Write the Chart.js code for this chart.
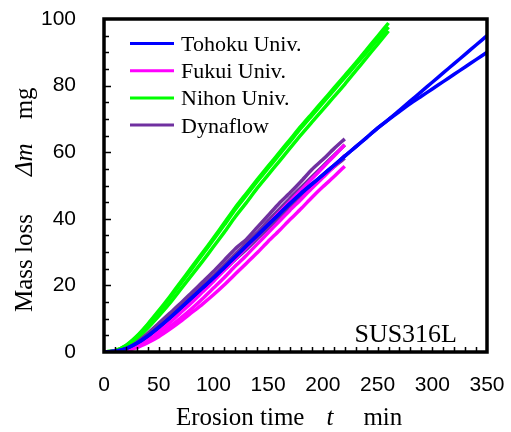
<!DOCTYPE html>
<html>
<head>
<meta charset="utf-8">
<script src="https://cdn.jsdelivr.net/npm/chart.js@4.4.0/dist/chart.umd.min.js"></script>
<style>
  body { margin: 0; background: #fff; }
  #wrap { width: 511px; height: 432px; }
</style>
</head>
<body>
<div id="wrap"><canvas id="erosion" width="511" height="432"></canvas></div>
<script>
// time grids (min)
const t220 = [0,10,20,30,40,50,60,70,80,90,100,110,120,130,140,150,160,170,180,190,200,210,220];
const t260 = [0,10,20,30,40,50,60,70,80,90,100,110,120,130,140,150,160,170,180,190,200,210,220,230,240,250,260];
const t350 = [0,10,20,30,40,50,60,70,80,90,100,110,120,130,140,150,160,170,180,190,200,210,220,230,240,250,260,270,280,290,300,310,320,330,340,350];

// mass loss (mg)
const tohoku1 = [0,0.2,1.0,2.6,4.8,7.4,10.2,13.2,16.2,19.2,22.2,25.4,28.6,31.8,35.0,38.2,41.4,44.6,47.6,50.4,53.2,56.0,58.8,61.6,64.4,67.2,69.8,72.6,75.4,78.2,81.0,83.8,86.6,89.4,92.2,95.0];
const tohoku2 = [0,0.2,1.0,2.6,4.8,7.4,10.2,13.2,16.2,19.2,22.2,25.4,28.6,31.8,35.0,38.2,41.4,44.6,47.6,50.4,53.2,56.0,58.8,61.6,64.4,67.2,69.8,72.2,74.6,76.8,79.0,81.2,83.4,85.6,87.8,90.0];
const fukui1 = [0,0.1,0.6,1.8,3.8,6.2,8.8,11.8,14.8,18.0,21.2,24.6,28.0,31.4,34.8,38.2,41.8,45.2,48.6,52.0,55.4,58.8,62.2];
const fukui2 = [0,0.1,0.5,1.5,3.2,5.2,7.6,10.2,13.0,16.0,19.2,22.4,25.8,29.0,32.4,35.8,39.2,42.6,45.8,49.2,52.4,55.6,59.0];
const fukui3 = [0,0.1,0.4,1.3,2.8,4.6,6.8,9.2,11.8,14.4,17.2,20.2,23.4,26.6,29.8,33.2,36.4,39.8,43.0,46.4,49.6,52.6,55.8];
const nihon1 = [0,0.4,2.0,4.8,8.4,12.4,16.6,21.0,25.4,29.8,34.2,38.8,43.4,47.6,51.8,55.8,59.8,63.8,67.8,71.6,75.4,79.2,83.0,86.8,90.8,94.8,98.8];
const nihon2 = [0,0.4,1.9,4.6,8.1,12.0,16.1,20.5,24.9,29.3,33.7,38.2,42.8,47.0,51.2,55.2,59.2,63.2,67.2,71.0,74.8,78.6,82.4,86.2,90.0,93.8,97.6];
const nihon3 = [0,0.3,1.5,3.9,7.2,10.8,14.6,18.8,23.0,27.2,31.6,36.0,40.6,44.8,49.2,53.2,57.2,61.2,65.2,69.0,72.8,76.6,80.4,84.4,88.4,92.4,96.4];
const dyna1 = [0,0.2,1.0,2.9,5.6,8.6,11.6,14.6,17.8,21.0,24.2,27.6,31.0,33.8,37.4,41.0,44.6,47.8,51.2,54.8,57.8,61.0,64.0];
const dyna2 = [0,0.2,0.9,2.5,5.0,7.8,10.8,13.8,16.8,19.8,22.8,26.2,29.4,32.6,35.8,39.4,42.8,46.2,49.4,52.6,55.8,59.0,62.2];
const dyna3 = [0,0.1,0.8,2.3,4.6,7.2,10.0,12.8,15.8,18.6,21.6,24.6,27.8,30.8,34.0,37.2,40.4,43.8,46.8,50.0,52.8,55.6,58.2];

const legendNames = ['Tohoku Univ.', 'Fukui Univ.', 'Nihon Univ.', 'Dynaflow'];
const legendColors = ['#0000ff', '#ff00ff', '#00ff00', '#7030a0'];
const xTickValues = [0,50,100,150,200,250,300,350];
const yTickValues = [0,20,40,60,80,100];

const SERIF = '"Liberation Serif", "Times New Roman", serif';
const SANS = '"Liberation Sans", Arial, sans-serif';

function pts(times, values) {
  return values.map((v, i) => ({x: times[i], y: v}));
}

function series(times, values, color) {
  return {
    data: pts(times, values),
    borderColor: color,
    borderWidth: 3.5,
    pointRadius: 0,
    tension: 0.2,
    fill: false
  };
}

// no extra label padding, the plot box is fixed by layout padding
function noPad(scale) {
  scale.paddingTop = 0;
  scale.paddingBottom = 0;
  scale.paddingLeft = 0;
  scale.paddingRight = 0;
}

//frame + inward ticks
const framePlugin = {
  id: 'frame',
  afterDatasetsDraw(chart) {
    const ctx = chart.ctx;
    const a = chart.chartArea;
    const x = chart.scales.x, y = chart.scales.y;
    ctx.save();
    ctx.strokeStyle = '#000';
    ctx.lineWidth = 1.5;
    ctx.beginPath();
    for (let t = 10; t < 350; t += 10) {
      const px = Math.round(x.getPixelForValue(t)) + 0.5;
      ctx.moveTo(px, a.bottom);
      ctx.lineTo(px, a.bottom - 5);
    }
    for (let m = 5; m < 100; m += 5) {
      const py = Math.round(y.getPixelForValue(m)) + 0.5;
      ctx.moveTo(a.left, py);
      ctx.lineTo(a.left + (m % 20 == 0 ? 7 : 5), py);
    }
    ctx.stroke();
    ctx.lineWidth = 3.5;
    ctx.strokeRect(a.left, a.top, a.right - a.left, a.bottom - a.top);
    ctx.restore();
  }
};

//legend, sample name and axis titles (mixed italic)
const textPlugin = {
  id: 'texts',
  afterDraw(chart) {
    const ctx = chart.ctx;
    const a = chart.chartArea;
    ctx.save();
    ctx.fillStyle = '#000';
    ctx.textBaseline = 'alphabetic';

    legendNames.forEach((name, i) => {
      const ly = a.top + 24.5 + i * 27.2;
      ctx.strokeStyle = legendColors[i];
      ctx.lineWidth = 3;
      ctx.beginPath();
      ctx.moveTo(a.left + 26, ly);
      ctx.lineTo(a.left + 70, ly);
      ctx.stroke();
      ctx.font = '22px ' + SERIF;
      ctx.textAlign = 'left';
      ctx.fillText(name, a.left + 77, ly + 7.5);
    });

    ctx.font = '26px ' + SERIF;
    ctx.textAlign = 'right';
    ctx.fillText('SUS316L', a.right - 30, a.bottom - 10);

    // x title
    drawParts(ctx, [
      {text: 'Erosion time', italic: false, gap: 22},
      {text: 't', italic: true, gap: 30},
      {text: 'min', italic: false, gap: 0}
    ], 176, 425);

    // y title
    ctx.translate(32, 312);
    ctx.rotate(-Math.PI / 2);
    drawParts(ctx, [
      {text: 'Mass loss', italic: false, gap: 38},
      {text: 'Δm', italic: true, gap: 24},
      {text: 'mg', italic: false, gap: 0}
    ], 0, 0);
    ctx.restore();
  }
};

function drawParts(ctx, parts, x0, y0) {
  let x = x0;
  ctx.textAlign = 'left';
  parts.forEach((p) => {
    ctx.font = (p.italic ? 'italic ' : '') + '25px ' + SERIF;
    ctx.fillText(p.text, x, y0);
    x += ctx.measureText(p.text).width + p.gap;
  });
}

const datasets = [
  series(t350, tohoku1, legendColors[0]),
  series(t350, tohoku2, legendColors[0]),
  series(t220, fukui1, legendColors[1]),
  series(t220, fukui2, legendColors[1]),
  series(t220, fukui3, legendColors[1]),
  series(t220, dyna1, legendColors[3]),
  series(t220, dyna2, legendColors[3]),
  series(t220, dyna3, legendColors[3]),
  series(t260, nihon1, legendColors[2]),
  series(t260, nihon2, legendColors[2]),
  series(t260, nihon3, legendColors[2])
];

new Chart(document.getElementById('erosion'), {
  type: 'line',
  data: { datasets: datasets },
  options: {
    responsive: false,
    animation: false,
    layout: { padding: { left: 0, right: 24, top: 19, bottom: 0 } },
    plugins: { legend: { display: false }, tooltip: { enabled: false } },
    scales: {
      x: {
        type: 'linear',
        min: 0,
        max: 350,
        grid: { display: false, drawTicks: false },
        border: { display: false },
        afterBuildTicks: (scale) => { scale.ticks = xTickValues.map(v => ({value: v})); },
        afterFit: (scale) => { scale.height = 80; noPad(scale); },
        ticks: {
          color: '#000',
          font: { family: SANS, size: 21 },
          padding: 21,
          maxRotation: 0,
          autoSkip: false
        }
      },
      y: {
        min: 0,
        max: 100,
        grid: { display: false, drawTicks: false },
        border: { display: false },
        afterBuildTicks: (scale) => { scale.ticks = yTickValues.map(v => ({value: v})); },
        afterFit: (scale) => { scale.width = 104; noPad(scale); },
        ticks: {
          color: '#000',
          font: { family: SANS, size: 21 },
          padding: 28
        }
      }
    }
  },
  plugins: [framePlugin, textPlugin]
});
</script>
</body>
</html>
